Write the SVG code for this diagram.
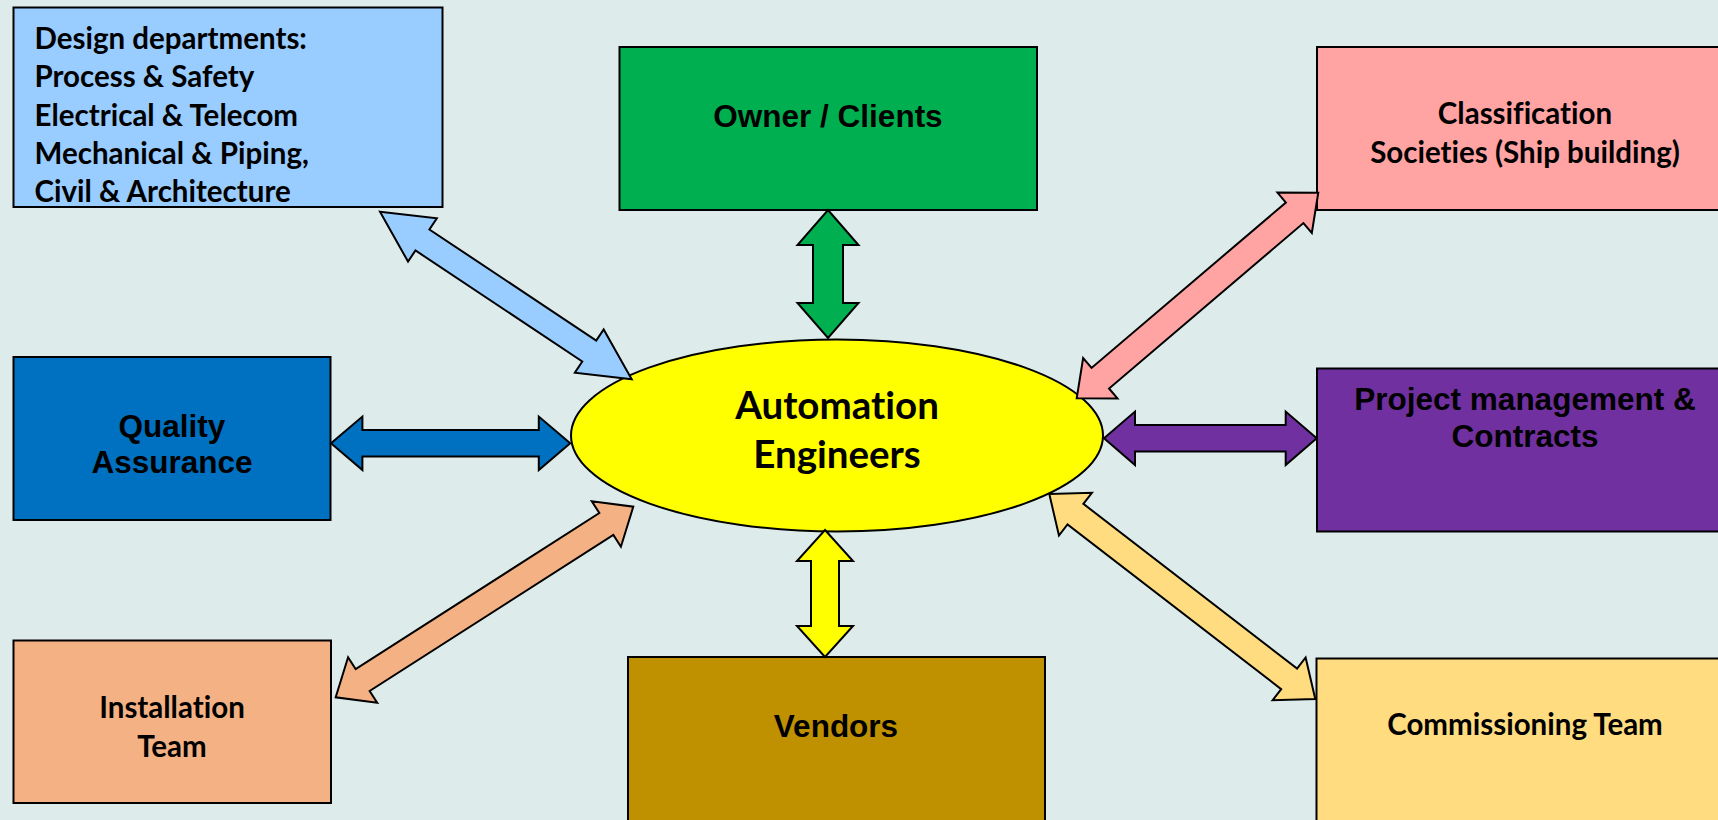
<svg xmlns="http://www.w3.org/2000/svg" width="1718" height="820" viewBox="0 0 1718 820">
  <style>
    .box { stroke: #000; stroke-width: 2; }
    .arrow { stroke: #000; stroke-width: 2; stroke-linejoin: miter; }
    .sans { font-family: "Liberation Sans", Arial, sans-serif; font-weight: bold; font-size: 31.5px; fill: #000; }
    .human { font-family: Lato, "Open Sans", sans-serif; font-weight: bold; font-size: 29.5px; fill: #000; font-variant-ligatures: none; }
    .title { font-size: 38.5px; }
    .mid { text-anchor: middle; }
  </style>

  <!-- backdrop -->
  <rect x="0" y="0" width="1718" height="820" fill="#DEEBEB"/>

  <!-- stakeholder boxes -->
  <g id="design-departments">
    <rect class="box" x="13.5" y="7.5" width="429" height="199.5" fill="#99CCFF"/>
    <text class="human" x="34.5" y="48.9">Design departments:</text>
    <text class="human" x="34.5" y="87.3">Process &amp; Safety</text>
    <text class="human" x="34.5" y="125.7">Electrical &amp; Telecom</text>
    <text class="human" x="34.5" y="164.1">Mechanical &amp; Piping,</text>
    <text class="human" x="34.5" y="202.3">Civil &amp; Architecture</text>
  </g>

  <g id="owner-clients">
    <rect class="box" x="619.5" y="47" width="417.5" height="163" fill="#00B050"/>
    <text class="sans mid" x="828" y="127">Owner / Clients</text>
  </g>

  <g id="classification-societies">
    <rect class="box" x="1317" y="47" width="420" height="163" fill="#FFA3A3"/>
    <text class="human mid" x="1525" y="124">Classification</text>
    <text class="human mid" x="1525" y="163">Societies (Ship building)</text>
  </g>

  <g id="quality-assurance">
    <rect class="box" x="13.5" y="357" width="317" height="163" fill="#0070C0"/>
    <text class="sans mid" x="172" y="436.7">Quality</text>
    <text class="sans mid" x="172" y="473.3">Assurance</text>
  </g>

  <g id="project-management">
    <rect class="box" x="1317" y="368.5" width="420" height="163" fill="#7030A0"/>
    <text class="sans mid" x="1525" y="410">Project management &amp;</text>
    <text class="sans mid" x="1525" y="446.7">Contracts</text>
  </g>

  <g id="installation-team">
    <rect class="box" x="13.5" y="640.5" width="317.5" height="162.5" fill="#F4B183"/>
    <text class="human mid" x="172" y="718.3">Installation</text>
    <text class="human mid" x="172" y="756.7">Team</text>
  </g>

  <g id="vendors">
    <rect class="box" x="628" y="657" width="417" height="180" fill="#BF9000"/>
    <text class="sans mid" x="836" y="737">Vendors</text>
  </g>

  <g id="commissioning-team">
    <rect class="box" x="1316.5" y="658.5" width="420" height="180" fill="#FFDC80"/>
    <text class="human mid" x="1525" y="735">Commissioning Team</text>
  </g>

  <g id="automation-engineers">
    <ellipse class="box" cx="837" cy="435.5" rx="266" ry="96" fill="#FFFF00"/>
    <text class="human title mid" x="837" y="419">Automation</text>
    <text class="human title mid" x="837" y="468">Engineers</text>
  </g>

  <!-- two-headed block arrows, each drawn along its own local x axis -->
  <g id="connectors">
    <g transform="translate(380 211.7) rotate(33.66)">
      <polygon class="arrow" fill="#99CCFF" points="0,0 51,-26 51,-12.6 251.4,-12.6 251.4,-26 302.4,0 251.4,26 251.4,12.6 51,12.6 51,26"/>
    </g>
    <g transform="translate(828 210) rotate(90)">
      <polygon class="arrow" fill="#00B050" points="0,0 35,-30.5 35,-15 93,-15 93,-30.5 128,0 93,30.5 93,15 35,15 35,30.5"/>
    </g>
    <g transform="translate(1076.7 398.3) rotate(-40.4)">
      <polygon class="arrow" fill="#FFA3A3" points="0,0 31,-26.5 31,-13.5 286.2,-13.5 286.2,-26.5 317.2,0 286.2,26.5 286.2,13.5 31,13.5 31,26.5"/>
    </g>
    <g transform="translate(331 443.3)">
      <polygon class="arrow" fill="#0070C0" points="0,0 31.4,-26.7 31.4,-13.3 207.8,-13.3 207.8,-26.7 239.2,0 207.8,26.7 207.8,13.3 31.4,13.3 31.4,26.7"/>
    </g>
    <g transform="translate(1104 438.3)">
      <polygon class="arrow" fill="#7030A0" points="0,0 31,-26.7 31,-13.2 181.7,-13.2 181.7,-26.7 212.7,0 181.7,26.7 181.7,13.2 31,13.2 31,26.7"/>
    </g>
    <g transform="translate(335.7 697.3) rotate(-32.64)">
      <polygon class="arrow" fill="#F4B183" points="0,0 32,-27 32,-13 321.4,-13 321.4,-27 353.4,0 321.4,27 321.4,13 32,13 32,27"/>
    </g>
    <g transform="translate(825 530) rotate(90)">
      <polygon class="arrow" fill="#FFFF00" points="0,0 31,-28 31,-14 96,-14 96,-28 127,0 96,28 96,14 31,14 31,28"/>
    </g>
    <g transform="translate(1049.3 494) rotate(37.62)">
      <polygon class="arrow" fill="#FFDC80" points="0,0 33,-27 33,-13 302.8,-13 302.8,-27 335.8,0 302.8,27 302.8,13 33,13 33,27"/>
    </g>
  </g>
</svg>
